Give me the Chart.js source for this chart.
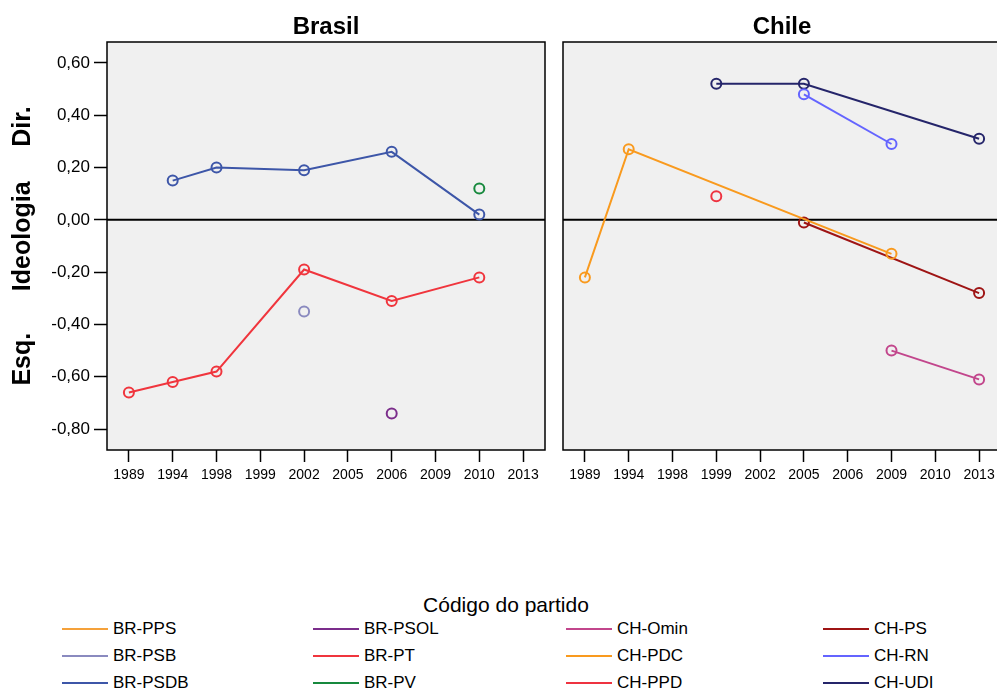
<!DOCTYPE html>
<html>
<head>
<meta charset="utf-8">
<script src="https://cdn.jsdelivr.net/npm/chart.js@4.4.1/dist/chart.umd.min.js"></script>
<style>
  html, body { margin: 0; padding: 0; width: 997px; height: 689px; overflow: hidden; background: #fff; }
  body { position: relative; font-family: "Liberation Sans", Arial, sans-serif; color: #000; }
  canvas { position: absolute; top: 0; }
  #brasil { left: 0; }
  #chile { left: 553px; }
  #legend-title { position: absolute; left: 0; width: 1012px; top: 592px; text-align: center; font-size: 21px; line-height: 26px; }
  .item { position: absolute; display: flex; align-items: center; height: 26px; font-size: 17px; white-space: nowrap; }
  .item .swatch { width: 46px; height: 2px; margin-right: 5px; }
</style>
</head>
<body>
<canvas id="brasil" width="555" height="500"></canvas>
<canvas id="chile" width="460" height="500"></canvas>
<div id="legend-title">Código do partido</div>
<div id="legend"></div>
<script>
// Election years shared by both panels (category axis)
const years = ['1989', '1994', '1998', '1999', '2002', '2005', '2006', '2009', '2010', '2013'];

// Ideology score per party and year (null = no observation)
const brPPS  = [null, null, null, null, null, null, null, null, null, null];
const brPSB  = [null, null, null, null, -0.35, null, null, null, null, null];
const brPSDB = [null, 0.15, 0.20, null, 0.19, null, 0.26, null, 0.02, null];
const brPSOL = [null, null, null, null, null, null, -0.74, null, null, null];
const brPT   = [-0.66, -0.62, -0.58, null, -0.19, null, -0.31, null, -0.22, null];
const brPV   = [null, null, null, null, null, null, null, null, 0.12, null];

const chOmin = [null, null, null, null, null, null, null, -0.50, null, -0.61];
const chPDC  = [-0.22, 0.27, null, null, null, null, null, -0.13, null, null];
const chPPD  = [null, null, null, 0.09, null, null, null, null, null, null];
const chPS   = [null, null, null, null, null, -0.01, null, null, null, -0.28];
const chRN   = [null, null, null, null, null, 0.48, null, 0.29, null, null];
const chUDI  = [null, null, null, 0.52, null, 0.52, null, null, null, 0.31];

// Value axis
const yTickValues = [-0.8, -0.6, -0.4, -0.2, 0, 0.2, 0.4, 0.6];
const yMin = -0.88;
const yMax = 0.68;

// Party codes in legend order, with their series and colours
const partyCodes = ['BR-PPS', 'BR-PSB', 'BR-PSDB', 'BR-PSOL', 'BR-PT', 'BR-PV',
                    'CH-Omin', 'CH-PDC', 'CH-PPD', 'CH-PS', 'CH-RN', 'CH-UDI'];
const partyColors = {
  'BR-PPS': '#f5a13a', 'BR-PSB': '#8a8abf', 'BR-PSDB': '#3d56a8', 'BR-PSOL': '#7b2d8b',
  'BR-PT': '#f0353d', 'BR-PV': '#17893d', 'CH-Omin': '#c2468c', 'CH-PDC': '#f99a1e',
  'CH-PPD': '#ee3340', 'CH-PS': '#9e1414', 'CH-RN': '#6464ff', 'CH-UDI': '#25256a'
};
const partySeries = {
  'BR-PPS': brPPS, 'BR-PSB': brPSB, 'BR-PSDB': brPSDB, 'BR-PSOL': brPSOL, 'BR-PT': brPT, 'BR-PV': brPV,
  'CH-Omin': chOmin, 'CH-PDC': chPDC, 'CH-PPD': chPPD, 'CH-PS': chPS, 'CH-RN': chRN, 'CH-UDI': chUDI
};

const FONT = '"Liberation Sans", Arial, sans-serif';
Chart.defaults.font.family = FONT;
Chart.defaults.color = '#000';

function datasetsFor(prefix) {
  return partyCodes.filter(c => c.startsWith(prefix)).map(code => ({
    label: code,
    data: partySeries[code],
    borderColor: partyColors[code],
    pointBorderColor: partyColors[code],
    backgroundColor: 'rgba(0,0,0,0)',
    pointBackgroundColor: 'rgba(0,0,0,0)',
    spanGaps: true
  }));
}

// Grey plot background, zero reference line, frame and panel heading
const panelFrame = {
  id: 'panelFrame',
  beforeDatasetsDraw(chart, args, opts) {
    const { ctx, chartArea: a } = chart;
    const y0 = chart.scales.y.getPixelForValue(0);
    ctx.save();
    ctx.fillStyle = '#f0f0f0';
    ctx.fillRect(a.left, a.top, a.right - a.left, a.bottom - a.top);
    ctx.strokeStyle = '#000';
    ctx.lineWidth = 2;
    ctx.beginPath();
    ctx.moveTo(a.left, y0);
    ctx.lineTo(a.right, y0);
    ctx.stroke();
    ctx.restore();
  },
  afterDraw(chart, args, opts) {
    const { ctx, chartArea: a } = chart;
    ctx.save();
    ctx.strokeStyle = '#000';
    ctx.lineWidth = 1.5;
    ctx.strokeRect(a.left, a.top, a.right - a.left, a.bottom - a.top);
    ctx.fillStyle = '#000';
    ctx.font = 'bold 24px ' + FONT;
    ctx.textAlign = 'center';
    ctx.textBaseline = 'alphabetic';
    ctx.fillText(opts.title, (a.left + a.right) / 2, 34);
    ctx.restore();
  }
};

function xScale() {
  return {
    type: 'category',
    offset: true,
    grid: { offset: false, drawOnChartArea: false, drawTicks: true, tickLength: 12, tickColor: '#000', tickWidth: 1.5 },
    border: { display: false },
    ticks: { font: { size: 14 }, color: '#000', padding: 5, autoSkip: false, maxRotation: 0, minRotation: 0 },
    afterFit(scale) { scale.height = 50; }
  };
}

function baseOptions(title, padding, yScale) {
  return {
    responsive: false,
    animation: false,
    devicePixelRatio: 1,
    layout: { padding },
    elements: {
      line: { borderWidth: 2, tension: 0 },
      point: { radius: 5, hoverRadius: 5, borderWidth: 2, pointStyle: 'circle' }
    },
    scales: { x: xScale(), y: yScale },
    plugins: {
      legend: { display: false },
      tooltip: { enabled: false },
      panelFrame: { title }
    }
  };
}

const sharedY = {
  type: 'linear',
  min: yMin,
  max: yMax,
  afterBuildTicks(scale) { scale.ticks = yTickValues.map(v => ({ value: v })); }
};

new Chart(document.getElementById('brasil'), {
  type: 'line',
  data: { labels: years, datasets: datasetsFor('BR-') },
  options: baseOptions('Brasil', { top: 42, right: 10, bottom: 0, left: 0 }, Object.assign({}, sharedY, {
    position: 'left',
    grid: { drawOnChartArea: false, drawTicks: true, tickLength: 13, tickColor: '#000', tickWidth: 1.5 },
    border: { display: false },
    ticks: {
      font: { size: 17 }, color: '#000', padding: 4,
      callback: v => (Math.abs(v) < 1e-9 ? 0 : v).toFixed(2).replace('.', ',')
    },
    title: {
      display: true,
      text: 'Esq.      Ideologia     Dir.',
      font: { size: 25, weight: 'bold' },
      color: '#000',
      padding: { top: 8, bottom: 0 }
    },
    afterFit(scale) { scale.width = 107; }
  })),
  plugins: [panelFrame]
});

new Chart(document.getElementById('chile'), {
  type: 'line',
  data: { labels: years, datasets: datasetsFor('CH-') },
  options: baseOptions('Chile', { top: 42, right: 12, bottom: 0, left: 10 }, Object.assign({}, sharedY, {
    display: false
  })),
  plugins: [panelFrame]
});

// Legend: four columns of three party codes
const legendCols = [62, 313, 566, 823];
const legendRows = [629, 656, 683];
const legend = document.getElementById('legend');
partyCodes.forEach((code, i) => {
  const col = Math.floor(i / 3), row = i % 3;
  const item = document.createElement('div');
  item.className = 'item';
  item.style.left = legendCols[col] + 'px';
  item.style.top = (legendRows[row] - 13) + 'px';
  const sw = document.createElement('span');
  sw.className = 'swatch';
  sw.style.background = partyColors[code];
  const label = document.createElement('span');
  label.textContent = code;
  item.appendChild(sw);
  item.appendChild(label);
  legend.appendChild(item);
});
</script>
</body>
</html>
